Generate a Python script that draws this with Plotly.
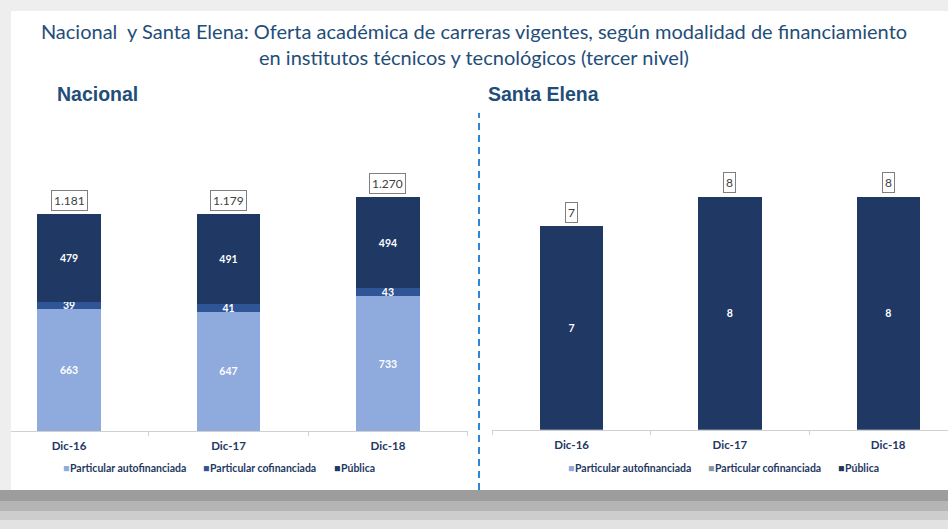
import plotly.graph_objects as go

# ---------------- data ----------------
categories = ["Dic-16", "Dic-17", "Dic-18"]
series_names = ["Particular autofinanciada", "Particular cofinanciada", "Pública"]

nac_autofin = [663, 647, 733]
nac_cofin = [39, 41, 43]
nac_publica = [479, 491, 494]
nac_total = [1181, 1179, 1270]

se_autofin = [0, 0, 0]
se_cofin = [0, 0, 0]
se_publica = [7, 8, 8]
se_total = [7, 8, 8]

title_text = ("Nacional  y Santa Elena: Oferta académica de carreras vigentes, según modalidad de financiamiento"
              "<br>en institutos técnicos y tecnológicos (tercer nivel)")
panel_titles = ["Nacional", "Santa Elena"]

# ---------------- style ----------------
W, H = 948, 529
C_LIGHT = "#8faadc"
C_MID = "#2f5597"
C_DARK = "#203864"
C_GRAY = "#8497b0"
TXT = "#1f3864"
FONT = "Lato, Open Sans, sans-serif"


def px(x):
    return x / W


def py(y):
    return 1 - y / H


fig = go.Figure()

nac_vals = [nac_autofin, nac_cofin, nac_publica]
se_vals = [se_autofin, se_cofin, se_publica]
nac_colors = [C_LIGHT, C_MID, C_DARK]
se_colors = [C_LIGHT, C_GRAY, C_DARK]

for name, vals, col in zip(series_names, nac_vals, nac_colors):
    fig.add_trace(go.Bar(
        x=categories, y=vals, name=name, marker=dict(color=col, line=dict(width=0)),
        width=0.40, xaxis="x", yaxis="y", showlegend=False,
        texttemplate="%{y}", textposition="inside", insidetextanchor="middle",
        textangle=0, constraintext="none",
        textfont=dict(family=FONT, size=10.5, color="white", weight="bold"),
        hoverinfo="skip",
    ))

for name, vals, col in zip(series_names, se_vals, se_colors):
    fig.add_trace(go.Bar(
        x=categories, y=vals, name=name, marker=dict(color=col, line=dict(width=0)),
        width=0.40, xaxis="x2", yaxis="y2", showlegend=False,
        text=[str(v) if v else "" for v in vals], textposition="inside",
        insidetextanchor="middle", textangle=0, constraintext="none",
        textfont=dict(family=FONT, size=10.5, color="white", weight="bold"),
        hoverinfo="skip",
    ))

annotations = []


def fmt(v):
    return f"{v:,}".replace(",", ".")


for xa, ya, cats, totals in [("x", "y", categories, nac_total), ("x2", "y2", categories, se_total)]:
    for cat, tot in zip(cats, totals):
        annotations.append(dict(
            x=cat, y=tot, xref=xa, yref=ya, text=fmt(tot), showarrow=False,
            yanchor="bottom", yshift=3, bgcolor="white", bordercolor="#7f7f7f",
            borderwidth=1, borderpad=2,
            font=dict(family=FONT, size=12, color="#404040")))

# panel titles
for t, x0 in zip(panel_titles, [55, 486]):
    annotations.append(dict(
        x=px(x0), y=py(94), xref="paper", yref="paper", text=t, showarrow=False,
        xanchor="left", yanchor="middle",
        font=dict(family="Liberation Sans, Arial, sans-serif", size=19.5,
                  color="#1f4e79", weight="bold")))

# legends drawn as text rows
legend_rows = [
    (series_names, nac_colors, [61, 201, 332]),
    (series_names, se_colors, [566, 706, 836]),
]
for names, cols, xs in legend_rows:
    for n, c, x0 in zip(names, cols, xs):
        annotations.append(dict(
            x=px(x0), y=py(468), xref="paper", yref="paper",
            text=f"<span style='color:{c}'>■</span>&#8202;{n}", showarrow=False,
            xanchor="left", yanchor="middle",
            font=dict(family=FONT, size=10.5, color=TXT, weight="bold")))

shapes = [
    # white slide panel
    dict(type="rect", xref="paper", yref="paper", x0=px(11), x1=1, y0=py(490), y1=py(11),
         fillcolor="white", line=dict(width=0), layer="below"),
    # bottom shadow band
    dict(type="rect", xref="paper", yref="paper", x0=0, x1=1, y0=py(501), y1=py(490),
         fillcolor="#9d9d9d", line=dict(width=0), layer="below"),
    dict(type="rect", xref="paper", yref="paper", x0=0, x1=1, y0=py(511), y1=py(501),
         fillcolor="#b5b5b5", line=dict(width=0), layer="below"),
    dict(type="rect", xref="paper", yref="paper", x0=0, x1=1, y0=py(520), y1=py(511),
         fillcolor="#cdcdcd", line=dict(width=0), layer="below"),
    dict(type="rect", xref="paper", yref="paper", x0=0, x1=1, y0=0, y1=py(520),
         fillcolor="#e2e2e2", line=dict(width=0), layer="below"),
    # divider
    dict(type="line", xref="paper", yref="paper", x0=px(479), x1=px(479), y0=py(490), y1=py(113),
         line=dict(color="#2f86d6", width=2, dash="7px,5px")),
]

axis_common = dict(
    type="category", showgrid=False, zeroline=False, showline=True,
    linecolor="#d0d0d0", linewidth=1, ticks="outside", tickson="boundaries",
    ticklen=4, tickcolor="#d0d0d0", ticklabelstandoff=4,
    tickfont=dict(family=FONT, size=11.5, color=TXT, weight="bold"),
)

fig.update_layout(
    width=W, height=H, margin=dict(l=0, r=0, t=0, b=0),
    paper_bgcolor="#eeeeee", plot_bgcolor="rgba(0,0,0,0)",
    barmode="stack", separators=",.", showlegend=False,
    title=dict(text=title_text, x=0.5, xanchor="center", y=py(39), yanchor="middle",
               font=dict(family=FONT, size=20, color="#1f4e79")),
    xaxis=dict(domain=[px(11), px(468)], range=[-0.364, 2.502], **axis_common),
    yaxis=dict(domain=[py(431), py(120)], range=[0, (431 - 120) / 0.184], visible=False),
    xaxis2=dict(domain=[px(491.7), 1], range=[-0.505, 2.378], anchor="y2", **axis_common),
    yaxis2=dict(domain=[py(429.7), py(120)], range=[0, (429.7 - 120) / 29.15], visible=False,
                anchor="x2"),
    annotations=annotations, shapes=shapes,
)

fig.write_html("out.html", config={"displayModeBar": False},
               post_script="document.body.style.margin='0';document.body.style.overflow='hidden';")
